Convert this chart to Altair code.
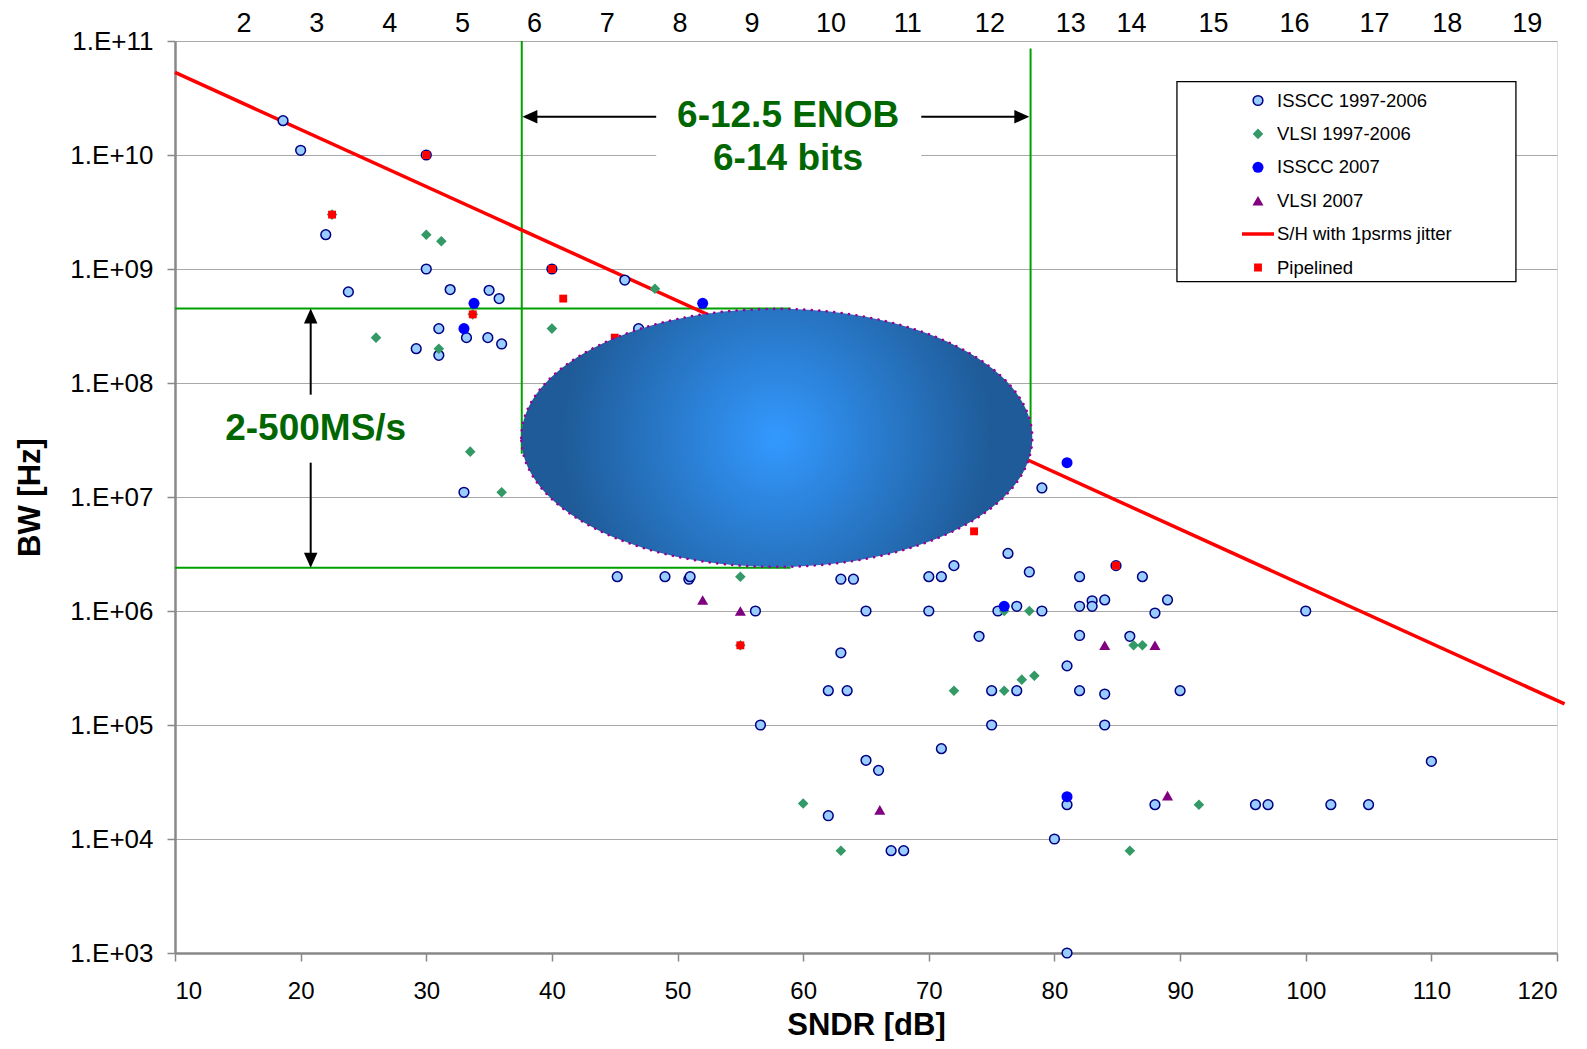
import altair as alt
import pandas as pd

# ---------------- data ----------------
SERIES = ["ISSCC 1997-2006", "VLSI 1997-2006", "ISSCC 2007", "VLSI 2007",
          "S/H with 1psrms jitter", "Pipelined"]

ISSCC_SNDR = [18.6, 20.0, 22.0, 23.8, 30.0, 30.0, 31.9, 35.0, 35.8, 31.0, 33.2, 34.9, 36.0,
              29.2, 31.0, 40.0, 45.8, 46.9, 33.0, 45.2, 49.0, 50.9, 51.0, 56.2, 63.0, 64.0,
              65.0, 63.0, 62.0, 63.5, 56.6, 65.0, 66.0, 71.0, 62.0, 67.0, 68.0, 70.0, 71.0,
              72.0, 70.0, 76.3, 78.0, 79.0, 75.5, 77.0, 79.0, 74.0, 75.0, 77.0, 75.0, 82.0,
              87.0, 82.0, 83.0, 83.0, 84.0, 88.0, 89.0, 82.0, 86.0, 81.0, 82.0, 84.0, 90.0,
              84.0, 80.0, 81.0, 81.0, 88.0, 96.0, 97.0, 102.0, 105.0, 110.0, 100.0, 84.9]
ISSCC_BW = [2.0e10, 1.1e10, 2.0e9, 6.3e8, 1.0e10, 1.0e9, 6.6e8, 6.5e8, 5.5e8, 3.0e8, 2.5e8,
            2.5e8, 2.2e8, 2.0e8, 1.75e8, 1.0e9, 8.0e8, 3.0e8, 1.1e7, 2.0e6, 2.0e6, 1.9e6,
            2.0e6, 1.0e6, 1.9e6, 1.9e6, 1.0e6, 4.3e5, 2.0e5, 2.0e5, 1.0e5, 4.9e4, 4.0e4,
            6.2e4, 1.6e4, 7.9e3, 7.9e3, 2.0e6, 2.0e6, 2.5e6, 1.0e6, 3.2e6, 2.2e6, 1.2e7,
            1.0e6, 1.1e6, 1.0e6, 6.0e5, 2.0e5, 2.0e5, 1.0e5, 2.0e6, 2.0e6, 1.1e6, 1.23e6,
            1.1e6, 1.25e6, 9.6e5, 1.25e6, 6.1e5, 6.0e5, 3.3e5, 2.0e5, 1.87e5, 2.0e5, 1.0e5,
            1.0e4, 2.0e4, 1.0e3, 2.0e4, 2.0e4, 2.0e4, 2.0e4, 2.0e4, 4.8e4, 1.0e6, 2.5e6]

VLSI_SNDR = [22.5, 30.0, 31.2, 33.7, 26.0, 31.0, 40.0, 48.2, 33.5, 36.0, 55.0, 55.0, 60.0,
             63.0, 72.0, 76.0, 77.4, 78.4, 76.0, 78.0, 86.3, 87.0, 91.5, 86.0]
VLSI_BW = [3.0e9, 2.0e9, 1.75e9, 4.0e8, 2.5e8, 2.0e8, 3.0e8, 6.7e8, 2.5e7, 1.1e7, 2.0e6,
           5.0e5, 2.05e4, 7.9e3, 2.0e5, 2.0e5, 2.5e5, 2.7e5, 1.0e6, 1.0e6, 5.0e5, 5.0e5,
           2.0e4, 7.9e3]

ISSCC07_SNDR = [33.8, 33.0, 52.0, 81.0, 76.0, 81.0]
ISSCC07_BW = [5.0e8, 3.0e8, 5.0e8, 2.0e7, 1.1e6, 2.35e4]

VLSI07_SNDR = [52.0, 55.0, 66.1, 84.0, 88.0, 89.0]
VLSI07_BW = [1.25e6, 1.0e6, 1.8e4, 5.0e5, 5.0e5, 2.4e4]

PIPE_SNDR = [30.0, 22.5, 40.0, 40.9, 33.7, 45.0, 73.6, 84.9, 55.0]
PIPE_BW = [1.0e10, 3.0e9, 1.0e9, 5.5e8, 4.0e8, 2.5e8, 5.0e6, 2.5e6, 5.0e5]

JITTER_SNDR = [10.0, 120.6]
JITTER_BW = [5.3e10, 1.53e5]

# green guide lines (x1, x2, y1, y2)
GUIDE_X1 = [37.6, 78.1, 10.0, 10.0]
GUIDE_X2 = [37.6, 78.1, 59.0, 59.0]
GUIDE_Y1 = [1.0e11, 8.6e10, 4.5e8, 2.4e6]
GUIDE_Y2 = [2.4e7, 2.9e7, 4.5e8, 2.4e6]

# black arrows: shafts and tips
SHAFT_X1 = [48.3, 69.4, 20.8, 20.8]
SHAFT_X2 = [38.7, 77.0, 20.8, 20.8]
SHAFT_Y1 = [2.17e10, 2.17e10, 7.9e7, 2.0e7]
SHAFT_Y2 = [2.17e10, 2.17e10, 3.7e8, 2.9e6]
TIP_DIR = ["left", "right", "up", "down"]
TIP_X = [37.65, 78.0, 20.8, 20.8]
TIP_Y = [2.17e10, 2.17e10, 4.5e8, 2.4e6]

# highlighted design-space ellipse (center)
ELL_SNDR = [57.9]
ELL_BW = [3.3e7]

# white box behind the ENOB caption
BOX_X1, BOX_X2 = [48.3], [69.4]
BOX_Y1, BOX_Y2 = [6.7e9], [3.9e10]

# legend frame (in data coordinates)
FRAME_X1, FRAME_X2 = [89.75], [116.73]
FRAME_Y1, FRAME_Y2 = [4.4e10], [7.74e8]

NOTE_TEXT = ["6-12.5 ENOB", "6-14 bits", "2-500MS/s"]
NOTE_SNDR = [58.8, 58.8, 21.2]
NOTE_BW = [2.21e10, 9.3e9, 3.97e7]

ENOB_LABELS = [str(i) for i in range(2, 20)]
ENOB_POS = [15.49, 21.29, 27.09, 32.88, 38.61, 44.41, 50.20, 55.92, 62.21, 68.33,
            74.86, 81.30, 86.13, 92.66, 99.10, 105.47, 111.27, 117.63]

X_TICKS = list(range(10, 121, 10))
Y_TICKS = [1e3, 1e4, 1e5, 1e6, 1e7, 1e8, 1e9, 1e10, 1e11]
Y_LABELS = ["1.E+03", "1.E+04", "1.E+05", "1.E+06", "1.E+07", "1.E+08", "1.E+09",
            "1.E+10", "1.E+11"]

# ---------------- styling ----------------
FONT = "Liberation Sans"
FILL_RANGE = ["#99CCFF", "#339966", "#0000FF", "#800080", "transparent", "#FF0000"]
STROKE_RANGE = ["#000080", "#339966", "#0000FF", "#800080", "#FF0000", "#FF0000"]
SHAPE_RANGE = ["circle", "diamond", "circle", "triangle-up", "stroke", "square"]
SIZE_RANGE = [95, 112, 122, 122, 1024, 62]
SW_RANGE = [1.5, 0, 0, 0, 3.5, 0]

fill_scale = alt.Scale(domain=SERIES, range=FILL_RANGE)
stroke_scale = alt.Scale(domain=SERIES, range=STROKE_RANGE)
shape_scale = alt.Scale(domain=SERIES, range=SHAPE_RANGE)
size_scale = alt.Scale(type="ordinal", domain=SERIES, range=SIZE_RANGE)
sw_scale = alt.Scale(type="ordinal", domain=SERIES, range=SW_RANGE)

leg = alt.Legend(
    title=None, orient="none", legendX=1002, legendY=41, padding=9,
    symbolOffset=54, labelOffset=1, rowPadding=14.4, clipHeight=19,
    labelFont=FONT, labelFontSize=18.5, labelColor="black", labelLimit=400,
    symbolOpacity=1,
)

y_label_expr = " : ".join(
    f"datum.value < {t * 1.5:g} ? '{l}'" for t, l in zip(Y_TICKS, Y_LABELS)) + " : ''"

x_axis = alt.Axis(values=X_TICKS, grid=False, labelFontSize=24, tickSize=8, tickWidth=1.5,
                  domainWidth=2.5, labelPadding=18, titleFontSize=31, titleFontWeight="bold",
                  titleX=691, titleY=81, titleAlign="center", titleBaseline="alphabetic")
y_axis = alt.Axis(values=Y_TICKS, labelExpr=y_label_expr, grid=True, gridColor="#A8A8A8",
                  gridWidth=1, labelFontSize=26, tickSize=8, tickWidth=1.5, domainWidth=2.5,
                  labelPadding=14, titleFontSize=31, titleFontWeight="bold", titleAngle=270,
                  titleX=-136, titleY=456, titleAlign="center", titleBaseline="alphabetic")

XS = alt.Scale(domain=[10, 120], nice=False, zero=False)
YS = alt.Scale(type="log", domain=[1e3, 1e11], nice=False)


def X(f):
    return alt.X(f"{f}:Q", scale=XS, axis=x_axis, title="SNDR [dB]")


def Y(f):
    return alt.Y(f"{f}:Q", scale=YS, axis=y_axis, title="BW [Hz]")


def series_df(sndr, bw, name):
    return pd.DataFrame({"sndr": sndr, "bw": bw, "series": [name] * len(sndr)})


def points(df):
    return alt.Chart(df).mark_point(filled=True, opacity=1).encode(
        x=X("sndr"), y=Y("bw"),
        fill=alt.Fill("series:N", scale=fill_scale, legend=leg),
        stroke=alt.Stroke("series:N", scale=stroke_scale, legend=leg),
        shape=alt.Shape("series:N", scale=shape_scale, legend=leg),
        size=alt.Size("series:N", scale=size_scale, legend=leg),
        strokeWidth=alt.StrokeWidth("series:N", scale=sw_scale, legend=leg),
    )


# ---------------- layers ----------------
box = alt.Chart(pd.DataFrame({"x1": BOX_X1, "x2": BOX_X2, "y1": BOX_Y1, "y2": BOX_Y2})).mark_rect(
    fill="white").encode(x=X("x1"), x2="x2:Q", y=Y("y1"), y2="y2:Q")

frame = alt.Chart(pd.DataFrame({"x1": FRAME_X1, "x2": FRAME_X2, "y1": FRAME_Y1,
                                "y2": FRAME_Y2})).mark_rect(
    fill="white", stroke="black", strokeWidth=1.3).encode(
    x=X("x1"), x2="x2:Q", y=Y("y1"), y2="y2:Q")

guides = alt.Chart(pd.DataFrame({"x1": GUIDE_X1, "x2": GUIDE_X2, "y1": GUIDE_Y1, "y2": GUIDE_Y2})
                   ).mark_rule(color="#00A000", strokeWidth=2).encode(
    x=X("x1"), x2="x2:Q", y=Y("y1"), y2="y2:Q")

jitter = alt.Chart(series_df(JITTER_SNDR, JITTER_BW, SERIES[4])).mark_line().encode(
    x=X("sndr"), y=Y("bw"),
    stroke=alt.Stroke("series:N", scale=stroke_scale, legend=leg),
    strokeWidth=alt.StrokeWidth("series:N", scale=sw_scale, legend=leg))

isscc = points(series_df(ISSCC_SNDR, ISSCC_BW, SERIES[0]))
vlsi = points(series_df(VLSI_SNDR, VLSI_BW, SERIES[1]))
isscc07 = points(series_df(ISSCC07_SNDR, ISSCC07_BW, SERIES[2]))
vlsi07 = points(series_df(VLSI07_SNDR, VLSI07_BW, SERIES[3]))
pipe = points(series_df(PIPE_SNDR, PIPE_BW, SERIES[5]))

E = 0.505
K = 0.5523
KE = round(K * E, 4)
ELLIPSE_PATH = (f"M -1 0 C -1 {-KE} {-K} {-E} 0 {-E} C {K} {-E} 1 {-KE} 1 0 "
                f"C 1 {KE} {K} {E} 0 {E} C {-K} {E} -1 {KE} -1 0 Z")
gradient = {"gradient": "radial", "x1": 0.5, "y1": 0.5, "r1": 0, "x2": 0.5, "y2": 0.5,
            "r2": 0.42, "stops": [{"offset": 0, "color": "#3399FF"},
                                  {"offset": 1, "color": "#1F5B98"}]}
ellipse = alt.Chart(pd.DataFrame({"sndr": ELL_SNDR, "bw": ELL_BW})).mark_point(
    shape=ELLIPSE_PATH, size=511 * 511, filled=True, fill=gradient, opacity=1,
    stroke="#990099", strokeWidth=2.6, strokeDash=[0.1, 7.4], strokeCap="round").encode(
    x=X("sndr"), y=Y("bw"))

shafts = alt.Chart(pd.DataFrame({"x1": SHAFT_X1, "x2": SHAFT_X2, "y1": SHAFT_Y1, "y2": SHAFT_Y2})
                   ).mark_rule(color="black", strokeWidth=2).encode(
    x=X("x1"), x2="x2:Q", y=Y("y1"), y2="y2:Q")

TIP_PATHS = {"left": "M 0 0 L 2 -0.9 L 2 0.9 Z", "right": "M 0 0 L -2 -0.9 L -2 0.9 Z",
             "up": "M 0 0 L -0.9 2 L 0.9 2 Z", "down": "M 0 0 L -0.9 -2 L 0.9 -2 Z"}
tip_df = pd.DataFrame({"sndr": TIP_X, "bw": TIP_Y, "dir": TIP_DIR})
tips = [alt.Chart(tip_df[tip_df["dir"] == d]).mark_point(
    shape=TIP_PATHS[d], size=225, filled=True, fill="black", strokeWidth=0, opacity=1).encode(
    x=X("sndr"), y=Y("bw")) for d in TIP_DIR]

notes = alt.Chart(pd.DataFrame({"sndr": NOTE_SNDR, "bw": NOTE_BW, "txt": NOTE_TEXT})).mark_text(
    font=FONT, fontSize=37, fontWeight="bold", color="#006600", align="center",
    baseline="middle").encode(x=X("sndr"), y=Y("bw"), text="txt:N")

top = alt.Chart(pd.DataFrame({"pos": ENOB_POS, "lab": ENOB_LABELS})).mark_text(
    font=FONT, fontSize=27, color="black", align="center", baseline="middle").encode(
    x=X("pos"), y=alt.value(-17), text="lab:N")

chart = alt.layer(
    box, frame, guides, jitter, isscc, vlsi, isscc07, vlsi07, pipe, ellipse, shafts, *tips,
    notes, top
).properties(
    width=1382, height=912,
    padding={"left": 167, "top": 33, "right": 10, "bottom": 88},
    autosize=alt.AutoSizeParams(type="none"),
).configure_view(
    stroke="black", strokeWidth=2.5
).configure_axis(
    labelFont=FONT, titleFont=FONT, labelColor="black", titleColor="black",
    domainColor="black", tickColor="black"
).configure(font=FONT)

chart.save("out.html", embed_options={"renderer": "svg", "actions": False})
